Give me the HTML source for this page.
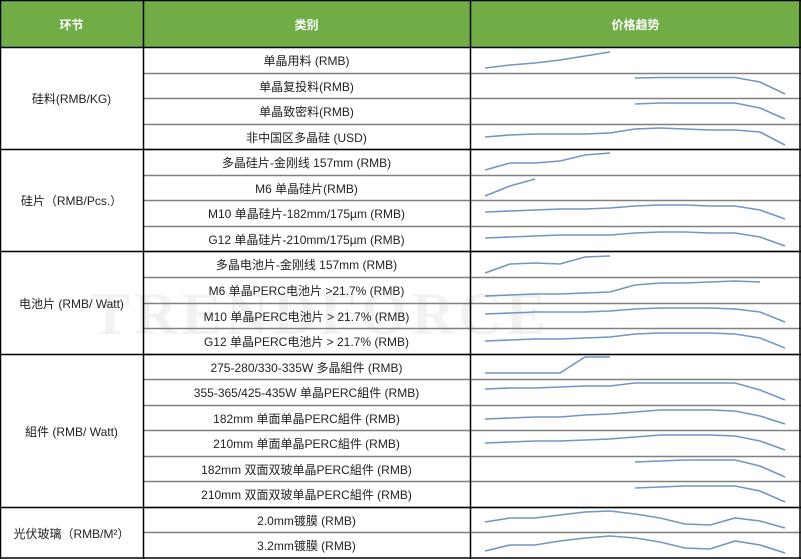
<!DOCTYPE html><html><head><meta charset="utf-8"><style>
body{margin:0;width:801px;height:559px;overflow:hidden;background:#fff;font-family:"Liberation Sans","Noto Sans CJK SC",sans-serif;}
.a{position:absolute;}
.t{position:absolute;font-size:12px;color:#222;text-align:center;white-space:nowrap;}
</style></head><body>
<div class="a" style="left:0;top:0;width:801px;height:47px;background:#70ad47"></div>
<div class="t" style="left:0;width:143px;top:16px;color:#fff;font-weight:bold">环节</div>
<div class="t" style="left:143px;width:327px;top:16px;color:#fff;font-weight:bold">类别</div>
<div class="t" style="left:470px;width:331px;top:16px;color:#fff;font-weight:bold">价格趋势</div>
<div class="t" style="left:90px;top:280px;font-size:60px;font-weight:bold;color:rgba(150,150,150,0.12);letter-spacing:4px;font-family:'Liberation Serif',serif">TRENDFORCE</div>
<svg class="a" style="left:0;top:0" width="801" height="559" id="s"></svg>
<div id="c"></div>
<script>
var rows=["单晶用料 (RMB)","单晶复投料(RMB)","单晶致密料(RMB)","非中国区多晶硅 (USD)","多晶硅片-金刚线 157mm (RMB)","M6 单晶硅片(RMB)","M10 单晶硅片-182mm/175µm (RMB)","G12 单晶硅片-210mm/175µm  (RMB)","多晶电池片-金刚线 157mm  (RMB)","M6 单晶PERC电池片  >21.7% (RMB)","M10 单晶PERC电池片  > 21.7% (RMB)","G12 单晶PERC电池片  > 21.7% (RMB)","275-280/330-335W 多晶組件 (RMB)","355-365/425-435W 单晶PERC組件 (RMB)","182mm 单面单晶PERC組件 (RMB)","210mm 单面单晶PERC組件 (RMB)","182mm 双面双玻单晶PERC組件 (RMB)","210mm 双面双玻单晶PERC組件 (RMB)","2.0mm镀膜 (RMB)","3.2mm镀膜 (RMB)"];
var secs=[[0,4,"硅料(RMB/KG)"],[4,8,"硅片（RMB/Pcs.）"],[8,12,"电池片 (RMB/ Watt)"],[12,18,"組件 (RMB/ Watt)"],[18,20,"光伏玻璃（RMB/M²）"]];
var Y=function(k){return Math.round(47+25.55*k)};
var sp=[
[0,[68,65,63,60,56,52]],[6,[78,77.5,77.5,77.5,77.5,82,94]],[6,[104,103,103,103,103,108,119]],
[0,[137,135,134,134,134,133,129,128,129,130,130,132,145]],[0,[170,163,163,161,155,153]],[0,[196,186,179]],
[0,[212,211,210,209,209,208,206,205,205,206,206,210,219]],[0,[238,237,236,235,235,235,233,232,232,233,233,237,246]],
[0,[273,264,263,264,257,256]],[0,[296,295,294,294,293,292,285,283,283,282,281,282]],
[0,[314,313,312,312,312,311,309,308,308,308,309,312,322]],[0,[341,340,339,339,338,337,334,333,333,333,334,338,348]],
[0,[373,373,373,373,357,357]],[0,[389,388,388,387,386,386,383,383,383,383,383,390,400]],
[0,[419,418,417,417,415,414,412,410,410,410,411,416,424]],[0,[443,442,441,441,440,439,437,435,435,435,436,441,450]],
[6,[462,461,460,460,460,466,477]],[6,[488,487,486,486,486,491,502]],
[0,[522,518,518,515,512,511,514,518,524,525,518,521,528]],[0,[551,545,545,541,538,536,538,542,548,549,541,545,553]]];
var h="",s="";
rows.forEach(function(r,i){var y=Y(i);h+='<div class="t" style="left:143px;width:327px;top:'+(y+5)+'px">'+r+'</div>';
if(i>0)s+='<line x1="143" x2="801" y1="'+(y+0.5)+'" y2="'+(y+0.5)+'" stroke="#808080" stroke-width="1.5"/>';
var p=sp[i],pts=p[1].map(function(v,j){return (485+25*(j+p[0]))+","+v}).join(" ");
s+='<polyline points="'+pts+'" fill="none" stroke="#5b82b8" stroke-width="1.6" opacity="0.85"/>';});
secs.forEach(function(q){var y0=Y(q[0]),y1=Y(q[1]);h+='<div class="t" style="left:0;width:143px;top:'+((y0+y1)/2-8)+'px">'+q[2]+'</div>';
s+='<line x1="0" x2="801" y1="'+(y0+0.5)+'" y2="'+(y0+0.5)+'" stroke="#000" stroke-width="1.5"/>';});
s+='<line x1="0" x2="801" y1="558" y2="558" stroke="#000" stroke-width="1.5"/>';
[0.5,143.5,470.5,800].forEach(function(x){s+='<line x1="'+x+'" x2="'+x+'" y1="0" y2="559" stroke="#000" stroke-width="1.5"/>'});
s+='<line x1="0" x2="801" y1="0.5" y2="0.5" stroke="#000" stroke-width="1.5"/>';
document.getElementById("c").innerHTML=h;document.getElementById("s").innerHTML=s;
</script></body></html>
